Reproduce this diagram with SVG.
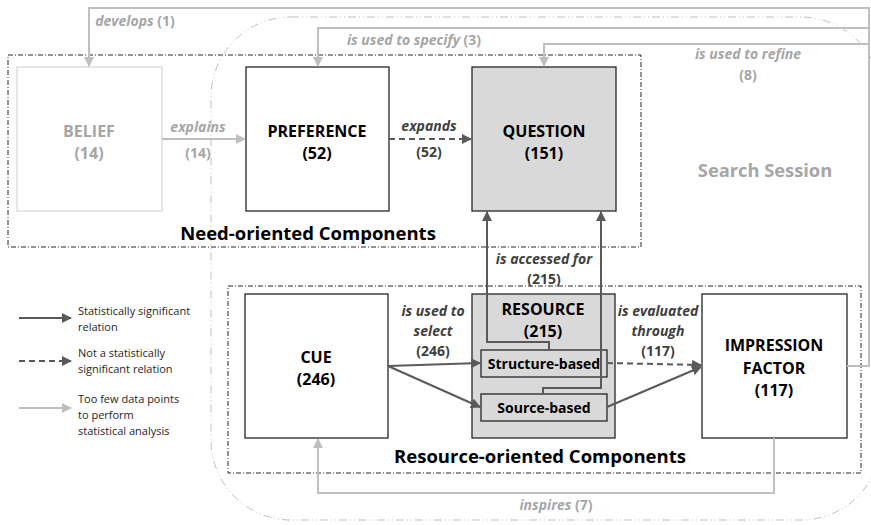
<svg xmlns="http://www.w3.org/2000/svg" width="871" height="525" viewBox="0 0 871 525">
  <defs>
    <marker id="arrDark" viewBox="0 0 10 10" refX="9" refY="5" markerWidth="5" markerHeight="5" orient="auto" markerUnits="strokeWidth">
      <path d="M0,0 L10,5 L0,10 z" fill="#595959"/>
    </marker>
    <marker id="arrLight" viewBox="0 0 10 10" refX="9" refY="5" markerWidth="5" markerHeight="5" orient="auto" markerUnits="strokeWidth">
      <path d="M0,0 L10,5 L0,10 z" fill="#bfbfbf"/>
    </marker>
    <style>
      text { font-family: "Open Sans", "Noto Sans", "Liberation Sans", sans-serif; }
      .node { fill: #ffffff; stroke: #262626; stroke-width: 1.3; }
      .shaded { fill: #d9d9d9; stroke: #262626; stroke-width: 1.3; }
      .faint { fill: #ffffff; stroke: #d9d9d9; stroke-width: 1.3; }
      .title { font-size: 16px; font-weight: bold; fill: #000; text-anchor: middle; }
      .sub { font-size: 14px; font-weight: bold; fill: #000; text-anchor: middle; }
      .ftitle { font-size: 16px; font-weight: bold; fill: #a6a6a6; text-anchor: middle; }
      .group { font-size: 18.5px; font-weight: bold; fill: #000; text-anchor: middle; }
      .session { font-size: 18.3px; font-weight: bold; fill: #a6a6a6; text-anchor: middle; }
      .lbl { font-size: 14px; font-weight: bold; fill: #404040; text-anchor: middle; }
      .flbl { font-size: 14px; font-weight: bold; fill: #a6a6a6; text-anchor: middle; }
      .it { font-style: italic; }
      .legend { font-size: 11px; fill: #262626; }
      .dark { fill: none; stroke: #595959; stroke-width: 2; }
      .darkdash { fill: none; stroke: #595959; stroke-width: 2; stroke-dasharray: 6 4; }
      .light { fill: none; stroke: #bfbfbf; stroke-width: 2; }
      .region { fill: none; stroke: #262626; stroke-width: 1; stroke-dasharray: 5 2 1 2; }
      .sessionline { fill: none; stroke: #bfbfbf; stroke-width: 1; stroke-dasharray: 8 3 1 3 1 3; }
    </style>
  </defs>

  <!-- search session boundary -->
  <rect class="sessionline" x="211" y="17" width="670" height="503" rx="80" ry="80"/>
  <text class="session" x="765" y="177">Search Session</text>

  <!-- component regions -->
  <g id="need-oriented">
    <rect class="region" x="8" y="55" width="633" height="192"/>
    <text class="group" x="308" y="240">Need-oriented Components</text>
  </g>
  <g id="resource-oriented">
    <rect class="region" x="228" y="286" width="633" height="187"/>
    <text class="group" x="540" y="463">Resource-oriented Components</text>
  </g>

  <!-- nodes -->
  <g id="belief">
    <rect class="faint" x="17" y="67" width="145" height="144"/>
    <text class="ftitle" x="89" y="137">BELIEF</text>
    <text class="ftitle" x="89" y="159">(14)</text>
  </g>
  <g id="preference">
    <rect class="node" x="246" y="67" width="143" height="144"/>
    <text class="title" x="317" y="137">PREFERENCE</text>
    <text class="title" x="317" y="159">(52)</text>
  </g>
  <g id="question">
    <rect class="shaded" x="472" y="67" width="144" height="144"/>
    <text class="title" x="544" y="137">QUESTION</text>
    <text class="title" x="544" y="159">(151)</text>
  </g>
  <g id="cue">
    <rect class="node" x="245" y="294" width="143" height="144"/>
    <text class="title" x="316" y="363">CUE</text>
    <text class="title" x="316" y="385">(246)</text>
  </g>
  <g id="resource">
    <rect class="shaded" x="472" y="294" width="143" height="144"/>
    <text class="title" x="543" y="315">RESOURCE</text>
    <text class="title" x="543" y="337">(215)</text>
  </g>
  <g id="structure-based">
    <rect class="shaded" x="481" y="350" width="126" height="27"/>
    <text class="sub" x="544" y="369">Structure-based</text>
  </g>
  <g id="source-based">
    <rect class="shaded" x="481" y="394" width="126" height="27"/>
    <text class="sub" x="544" y="413">Source-based</text>
  </g>
  <g id="impression-factor">
    <rect class="node" x="702" y="294" width="145" height="144"/>
    <text class="title" x="774" y="351">IMPRESSION</text>
    <text class="title" x="774" y="374">FACTOR</text>
    <text class="title" x="774" y="396">(117)</text>
  </g>

  <!-- connectors -->
  <g id="connectors">
    <!-- from impression factor back into the need-oriented components -->
    <path class="light" d="M847,366 H869 V8 H89 V66" marker-end="url(#arrLight)"/>
    <path class="light" d="M869,28 H318 V66" marker-end="url(#arrLight)"/>
    <path class="light" d="M869,44 H544 V66" marker-end="url(#arrLight)"/>
    <!-- inspires -->
    <path class="light" d="M774,438 V493 H318 V439" marker-end="url(#arrLight)"/>
    <!-- explains -->
    <path class="light" d="M162,139 H245" marker-end="url(#arrLight)"/>
    <!-- expands -->
    <path class="darkdash" d="M389,139 H471" marker-end="url(#arrDark)"/>
    <!-- is accessed for -->
    <path class="dark" d="M549,350 V342 H487 V212" marker-end="url(#arrDark)"/>
    <path class="dark" d="M543,394 V388 H601 V212" marker-end="url(#arrDark)"/>
    <!-- is used to select -->
    <path class="dark" d="M388,366 L480,363" marker-end="url(#arrDark)"/>
    <path class="dark" d="M388,366 L480,407" marker-end="url(#arrDark)"/>
    <!-- is evaluated through -->
    <path class="darkdash" d="M607,363 L701,365" marker-end="url(#arrDark)"/>
    <path class="dark" d="M607,407 L701,367" marker-end="url(#arrDark)"/>

    <!-- connector labels -->
    <text class="flbl" x="135" y="26"><tspan class="it">develops</tspan> (1)</text>
    <text class="flbl" x="414" y="45"><tspan class="it">is used to specify</tspan> (3)</text>
    <text class="flbl it" x="748" y="59">is used to refine</text>
    <text class="flbl" x="748" y="80">(8)</text>
    <text class="flbl" x="556" y="510"><tspan class="it">inspires</tspan> (7)</text>
    <text class="flbl it" x="198" y="132">explains</text>
    <text class="flbl" x="198" y="158">(14)</text>
    <text class="lbl it" x="429" y="131">expands</text>
    <text class="lbl" x="429" y="157">(52)</text>
    <text class="lbl it" x="544" y="264">is accessed for</text>
    <text class="lbl" x="544" y="284">(215)</text>
    <text class="lbl it" x="433" y="316">is used to</text>
    <text class="lbl it" x="433" y="336">select</text>
    <text class="lbl" x="433" y="356">(246)</text>
    <text class="lbl it" x="658" y="316">is evaluated</text>
    <text class="lbl it" x="658" y="336">through</text>
    <text class="lbl" x="658" y="356">(117)</text>
  </g>

  <!-- legend -->
  <g id="legend">
    <path class="dark" d="M19,318 H71" marker-end="url(#arrDark)"/>
    <text class="legend" x="78" y="315">Statistically significant</text>
    <text class="legend" x="78" y="331">relation</text>
    <path class="darkdash" d="M19,361 H71" marker-end="url(#arrDark)"/>
    <text class="legend" x="78" y="357">Not a statistically</text>
    <text class="legend" x="78" y="373">significant relation</text>
    <path class="light" d="M19,408 H71" marker-end="url(#arrLight)"/>
    <text class="legend" x="78" y="403">Too few data points</text>
    <text class="legend" x="78" y="419">to perform</text>
    <text class="legend" x="78" y="435">statistical analysis</text>
  </g>
</svg>
